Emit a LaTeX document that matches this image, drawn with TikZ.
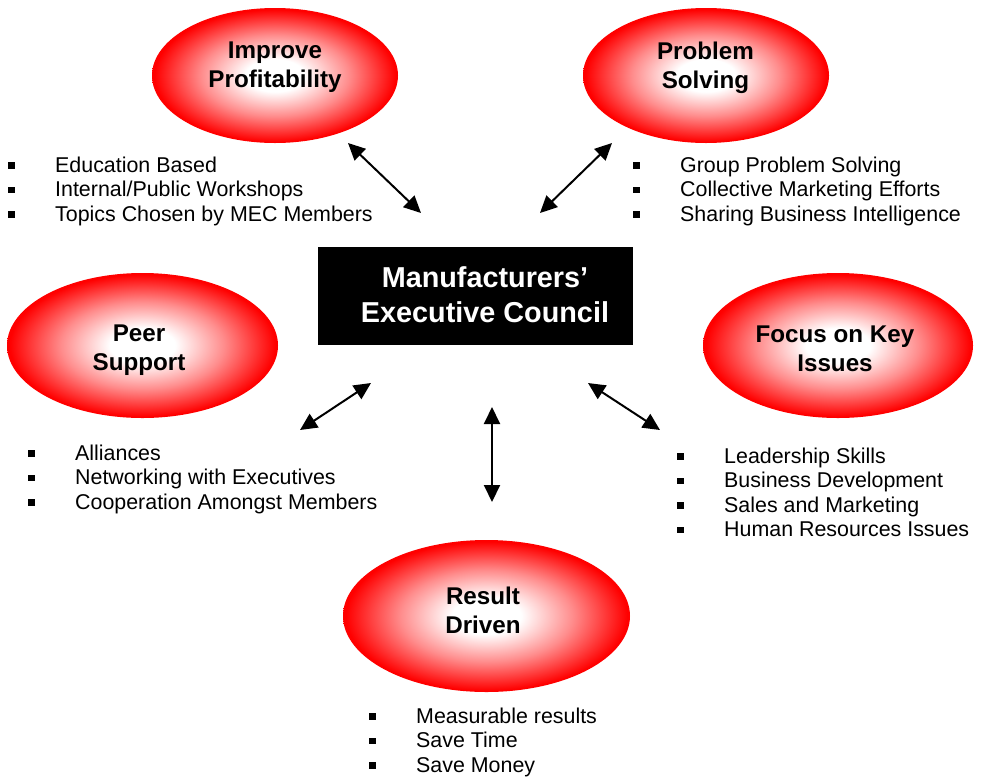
\documentclass[tikz,border=0pt]{standalone}
\usepackage{fontspec}
\setmainfont{Liberation Sans}
\usetikzlibrary{shapes.geometric,arrows.meta}
\pgfdeclareradialshading{redglow}{\pgfpointorigin}{color(0bp)=(white); color(6bp)=(white); color(15bp)=(red!45!white); color(24.5bp)=(red); color(25bp)=(red); color(50bp)=(red)}
\newcommand{\blt}{\rule[3.5pt]{6.5pt}{6.5pt}}
\begin{document}
\begin{tikzpicture}[x=1pt,y=-1pt,
  bubble/.style={ellipse, draw=none, shading=redglow, inner sep=0pt},
  bubtext/.style={font=\fontsize{24.2}{29}\selectfont\bfseries, align=center, inner sep=0pt},
  bullets/.style={anchor=base west, inner sep=0pt, font=\fontsize{21.4}{24.5}\selectfont},
  dbl/.style={{Triangle[length=17pt,width=16pt]}-{Triangle[length=17pt,width=16pt]}, line width=2pt}]
\useasboundingbox (0,0) rectangle (982,777);

% ellipses
\node[bubble, minimum width=246pt, minimum height=135pt] (imp) at (275,75.5) {};
\node[bubble, minimum width=246pt, minimum height=135pt] (prob) at (706,75.5) {};
\node[bubble, minimum width=271pt, minimum height=145pt] (peer) at (142.5,345.5) {};
\node[bubble, minimum width=270pt, minimum height=145pt] (focus) at (838,345.5) {};
\node[bubble, minimum width=287pt, minimum height=152pt] (res) at (486.5,616) {};

\node[bubtext] (impT) at (275,67.5) {Improve\\Profitability};
\node[bubtext] (probT) at (705.5,67.5) {Problem\\Solving};
\node[bubtext] (peerT) at (139,350.5) {Peer\\Support};
\node[bubtext] (focT) at (835,349) {Focus on Key\\Issues};
\node[bubtext] (resT) at (483,610.5) {Result\\Driven};

% centre box
\node[fill=black, minimum width=315pt, minimum height=98pt, inner sep=0pt] (mec) at (475.5,296) {};
\node[text=white, font=\fontsize{28.8}{35}\selectfont\bfseries, align=center, inner sep=0pt] (mecT) at (485,294.5) {Manufacturers’\\Executive Council};

% bullet lists
\node[bullets] (l1) at (8,172) {\begin{tabular}[t]{@{}l@{\hspace{40.5pt}}l@{}}
\blt & Education Based\\ \blt & Internal/Public Workshops\\ \blt & Topics Chosen by MEC Members\end{tabular}};
\node[bullets] (l2) at (633,172) {\begin{tabular}[t]{@{}l@{\hspace{40.5pt}}l@{}}
\blt & Group Problem Solving\\ \blt & Collective Marketing Efforts\\ \blt & Sharing Business Intelligence\end{tabular}};
\node[bullets] (l3) at (28,460) {\begin{tabular}[t]{@{}l@{\hspace{40.5pt}}l@{}}
\blt & Alliances\\ \blt & Networking with Executives\\ \blt & Cooperation Amongst Members\end{tabular}};
\node[bullets] (l4) at (677,463) {\begin{tabular}[t]{@{}l@{\hspace{40.5pt}}l@{}}
\blt & Leadership Skills\\ \blt & Business Development\\ \blt & Sales and Marketing\\ \blt & Human Resources Issues\end{tabular}};
\node[bullets] (l5) at (369,723) {\begin{tabular}[t]{@{}l@{\hspace{40.5pt}}l@{}}
\blt & Measurable results\\ \blt & Save Time\\ \blt & Save Money\end{tabular}};

% arrows
\coordinate (a1s) at (348,143); \coordinate (a1e) at (421,213);
\coordinate (a2s) at (612,143); \coordinate (a2e) at (540,213);
\coordinate (a3s) at (371,383); \coordinate (a3e) at (300,430);
\coordinate (a4s) at (492,407); \coordinate (a4e) at (492,502);
\coordinate (a5s) at (588,383); \coordinate (a5e) at (660,430);
\draw[dbl] (a1s) -- (a1e);
\draw[dbl] (a2s) -- (a2e);
\draw[dbl] (a3s) -- (a3e);
\draw[dbl] (a4s) -- (a4e);
\draw[dbl] (a5s) -- (a5e);
\end{tikzpicture}
\end{document}
